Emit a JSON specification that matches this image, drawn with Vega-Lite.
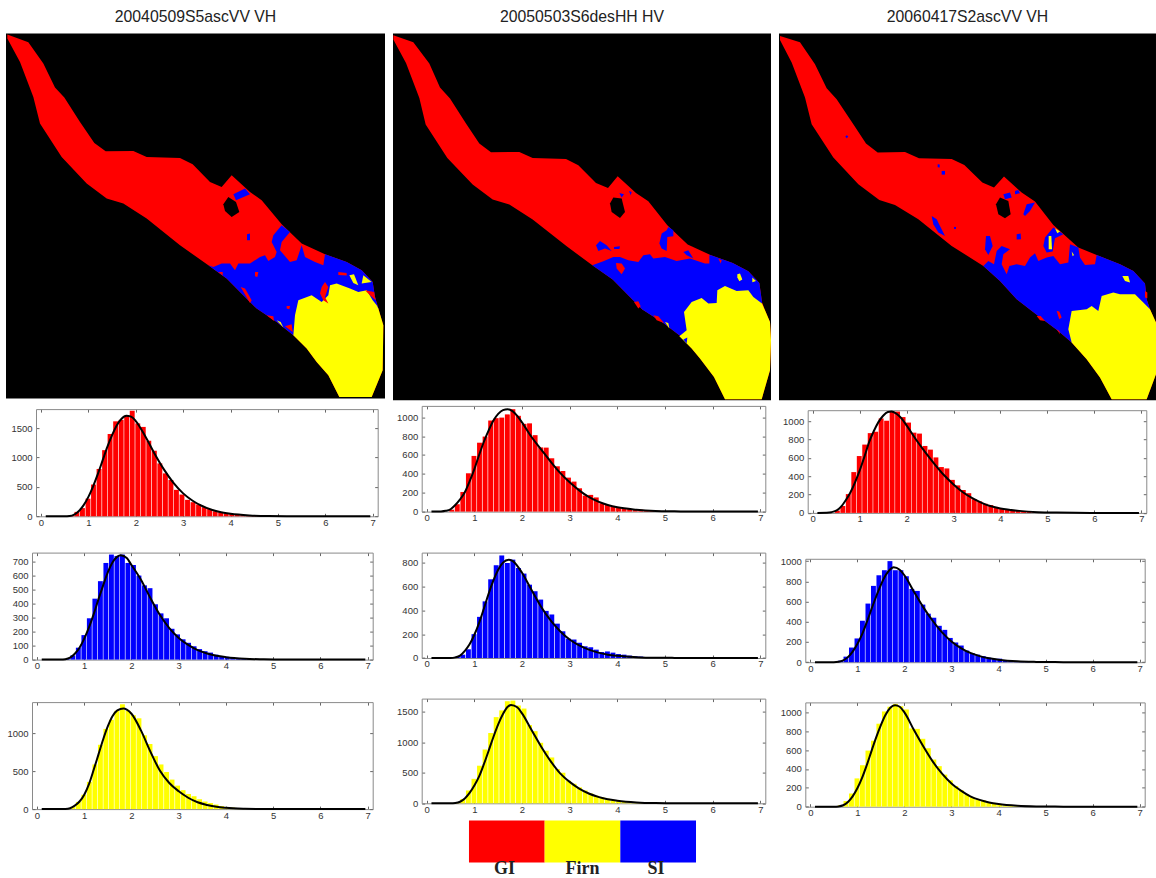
{
"$schema":"https://vega.github.io/schema/vega-lite/v6.json",
"background":"white",
"padding":{"left":6,"top":8.6,"right":0,"bottom":0},
"autosize":{"type":"pad"},
"config":{"view":{"stroke":null},"axis":{"domain":true,"domainColor":"#8a8a8a","domainWidth":1,"grid":false,"tickSize":-3,"tickColor":"#666666","labelFont":"Liberation Sans","labelFontSize":9.5,"labelColor":"#333333","title":null},"axisX":{"labelPadding":4},"axisY":{"labelPadding":7}},
"datasets":{
"b11":[{"x":0.642,"n":15},{"x":0.758,"n":75},{"x":0.875,"n":140},{"x":0.992,"n":300},{"x":1.108,"n":540},{"x":1.225,"n":805},{"x":1.342,"n":1125},{"x":1.458,"n":1400},{"x":1.575,"n":1615},{"x":1.692,"n":1640},{"x":1.808,"n":1710},{"x":1.925,"n":1795},{"x":2.042,"n":1580},{"x":2.158,"n":1520},{"x":2.275,"n":1285},{"x":2.392,"n":1115},{"x":2.508,"n":900},{"x":2.625,"n":730},{"x":2.742,"n":617},{"x":2.858,"n":450},{"x":2.975,"n":370},{"x":3.092,"n":280},{"x":3.208,"n":240},{"x":3.325,"n":200},{"x":3.442,"n":155},{"x":3.558,"n":125},{"x":3.675,"n":85},{"x":3.792,"n":70},{"x":3.908,"n":50},{"x":4.025,"n":40},{"x":4.142,"n":30},{"x":4.258,"n":20},{"x":4.375,"n":12},{"x":4.492,"n":8},{"x":4.608,"n":5}],
"c11":[{"x":0.1,"n":0},{"x":0.5,"n":0},{"x":0.6,"n":5},{"x":0.7,"n":30},{"x":0.8,"n":90},{"x":0.9,"n":190},{"x":1.0,"n":330},{"x":1.1,"n":510},{"x":1.2,"n":720},{"x":1.3,"n":950},{"x":1.4,"n":1180},{"x":1.5,"n":1380},{"x":1.6,"n":1550},{"x":1.7,"n":1660},{"x":1.8,"n":1710},{"x":1.9,"n":1695},{"x":2.0,"n":1620},{"x":2.2,"n":1360},{"x":2.4,"n":1060},{"x":2.6,"n":790},{"x":2.8,"n":565},{"x":3.0,"n":390},{"x":3.2,"n":265},{"x":3.4,"n":175},{"x":3.6,"n":112},{"x":3.8,"n":70},{"x":4.0,"n":43},{"x":4.4,"n":15},{"x":4.8,"n":4},{"x":5.2,"n":1},{"x":5.6,"n":0},{"x":6.95,"n":0}],
"b21":[{"x":0.642,"n":5},{"x":0.758,"n":30},{"x":0.875,"n":85},{"x":0.992,"n":175},{"x":1.108,"n":295},{"x":1.225,"n":435},{"x":1.342,"n":560},{"x":1.458,"n":690},{"x":1.575,"n":750},{"x":1.692,"n":740},{"x":1.808,"n":750},{"x":1.925,"n":690},{"x":2.042,"n":675},{"x":2.158,"n":600},{"x":2.275,"n":530},{"x":2.392,"n":510},{"x":2.508,"n":395},{"x":2.625,"n":330},{"x":2.742,"n":295},{"x":2.858,"n":220},{"x":2.975,"n":180},{"x":3.092,"n":145},{"x":3.208,"n":120},{"x":3.325,"n":95},{"x":3.442,"n":75},{"x":3.558,"n":60},{"x":3.675,"n":50},{"x":3.792,"n":35},{"x":3.908,"n":25},{"x":4.025,"n":20},{"x":4.142,"n":15},{"x":4.258,"n":12},{"x":4.375,"n":8},{"x":4.492,"n":5},{"x":4.608,"n":3}],
"c21":[{"x":0.1,"n":0},{"x":0.5,"n":0},{"x":0.6,"n":3},{"x":0.7,"n":14},{"x":0.8,"n":42},{"x":0.9,"n":85},{"x":1.0,"n":150},{"x":1.1,"n":230},{"x":1.2,"n":325},{"x":1.3,"n":430},{"x":1.4,"n":530},{"x":1.5,"n":625},{"x":1.6,"n":695},{"x":1.7,"n":735},{"x":1.77,"n":745},{"x":1.9,"n":725},{"x":2.0,"n":675},{"x":2.2,"n":570},{"x":2.4,"n":440},{"x":2.6,"n":320},{"x":2.8,"n":225},{"x":3.0,"n":155},{"x":3.2,"n":105},{"x":3.4,"n":68},{"x":3.6,"n":44},{"x":3.8,"n":27},{"x":4.0,"n":17},{"x":4.4,"n":6},{"x":4.8,"n":2},{"x":5.2,"n":0},{"x":6.95,"n":0}],
"b31":[{"x":0.642,"n":8},{"x":0.758,"n":30},{"x":0.875,"n":95},{"x":0.992,"n":190},{"x":1.108,"n":360},{"x":1.225,"n":590},{"x":1.342,"n":850},{"x":1.458,"n":1060},{"x":1.575,"n":1180},{"x":1.692,"n":1300},{"x":1.808,"n":1385},{"x":1.925,"n":1300},{"x":2.042,"n":1240},{"x":2.158,"n":1200},{"x":2.275,"n":975},{"x":2.392,"n":860},{"x":2.508,"n":700},{"x":2.625,"n":590},{"x":2.742,"n":490},{"x":2.858,"n":390},{"x":2.975,"n":310},{"x":3.092,"n":250},{"x":3.208,"n":200},{"x":3.325,"n":170},{"x":3.442,"n":130},{"x":3.558,"n":100},{"x":3.675,"n":80},{"x":3.792,"n":60},{"x":3.908,"n":40},{"x":4.025,"n":28},{"x":4.142,"n":20},{"x":4.258,"n":12},{"x":4.375,"n":8}],
"c31":[{"x":0.1,"n":0},{"x":0.5,"n":0},{"x":0.6,"n":2},{"x":0.7,"n":12},{"x":0.8,"n":45},{"x":0.9,"n":100},{"x":1.0,"n":190},{"x":1.1,"n":330},{"x":1.2,"n":520},{"x":1.3,"n":720},{"x":1.4,"n":920},{"x":1.5,"n":1095},{"x":1.6,"n":1230},{"x":1.7,"n":1305},{"x":1.83,"n":1330},{"x":1.9,"n":1315},{"x":2.0,"n":1260},{"x":2.2,"n":1040},{"x":2.4,"n":760},{"x":2.6,"n":510},{"x":2.8,"n":345},{"x":3.0,"n":235},{"x":3.2,"n":150},{"x":3.4,"n":90},{"x":3.6,"n":55},{"x":3.8,"n":30},{"x":4.0,"n":17},{"x":4.4,"n":5},{"x":4.8,"n":1},{"x":5.2,"n":0},{"x":6.95,"n":0}],
"b12":[{"x":0.525,"n":20},{"x":0.642,"n":78},{"x":0.758,"n":208},{"x":0.875,"n":406},{"x":0.992,"n":590},{"x":1.108,"n":730},{"x":1.225,"n":795},{"x":1.342,"n":965},{"x":1.458,"n":990},{"x":1.575,"n":996},{"x":1.692,"n":1030},{"x":1.808,"n":1085},{"x":1.925,"n":1015},{"x":2.042,"n":930},{"x":2.158,"n":935},{"x":2.275,"n":810},{"x":2.392,"n":680},{"x":2.508,"n":678},{"x":2.625,"n":565},{"x":2.742,"n":480},{"x":2.858,"n":430},{"x":2.975,"n":360},{"x":3.092,"n":318},{"x":3.208,"n":247},{"x":3.325,"n":170},{"x":3.442,"n":177},{"x":3.558,"n":150},{"x":3.675,"n":88},{"x":3.792,"n":70},{"x":3.908,"n":60},{"x":4.025,"n":45},{"x":4.142,"n":38},{"x":4.258,"n":30},{"x":4.375,"n":25},{"x":4.492,"n":20},{"x":4.608,"n":15},{"x":4.725,"n":12},{"x":4.842,"n":8},{"x":4.958,"n":5}],
"c12":[{"x":0.1,"n":0},{"x":0.3,"n":2},{"x":0.4,"n":8},{"x":0.5,"n":25},{"x":0.6,"n":70},{"x":0.7,"n":130},{"x":0.8,"n":205},{"x":0.9,"n":320},{"x":1.0,"n":450},{"x":1.1,"n":600},{"x":1.2,"n":740},{"x":1.3,"n":860},{"x":1.4,"n":965},{"x":1.5,"n":1035},{"x":1.6,"n":1075},{"x":1.7,"n":1085},{"x":1.8,"n":1065},{"x":1.9,"n":1015},{"x":2.0,"n":945},{"x":2.2,"n":790},{"x":2.4,"n":660},{"x":2.6,"n":530},{"x":2.8,"n":410},{"x":3.0,"n":310},{"x":3.2,"n":225},{"x":3.4,"n":155},{"x":3.6,"n":105},{"x":3.8,"n":70},{"x":4.0,"n":45},{"x":4.4,"n":20},{"x":4.8,"n":7},{"x":5.2,"n":3},{"x":5.6,"n":1},{"x":6.2,"n":0},{"x":6.95,"n":0}],
"b22":[{"x":0.642,"n":10},{"x":0.758,"n":28},{"x":0.875,"n":73},{"x":0.992,"n":200},{"x":1.108,"n":345},{"x":1.225,"n":475},{"x":1.342,"n":660},{"x":1.458,"n":778},{"x":1.575,"n":860},{"x":1.692,"n":797},{"x":1.808,"n":825},{"x":1.925,"n":755},{"x":2.042,"n":708},{"x":2.158,"n":615},{"x":2.275,"n":560},{"x":2.392,"n":490},{"x":2.508,"n":395},{"x":2.625,"n":365},{"x":2.742,"n":288},{"x":2.858,"n":224},{"x":2.975,"n":162},{"x":3.092,"n":155},{"x":3.208,"n":128},{"x":3.325,"n":98},{"x":3.442,"n":90},{"x":3.558,"n":70},{"x":3.675,"n":50},{"x":3.792,"n":55},{"x":3.908,"n":45},{"x":4.025,"n":33},{"x":4.142,"n":28},{"x":4.258,"n":20},{"x":4.375,"n":15},{"x":4.492,"n":12},{"x":4.608,"n":8},{"x":4.725,"n":5},{"x":4.842,"n":3}],
"c22":[{"x":0.1,"n":0},{"x":0.5,"n":0},{"x":0.6,"n":5},{"x":0.7,"n":20},{"x":0.8,"n":60},{"x":0.9,"n":115},{"x":1.0,"n":195},{"x":1.1,"n":295},{"x":1.2,"n":415},{"x":1.3,"n":540},{"x":1.4,"n":650},{"x":1.5,"n":740},{"x":1.6,"n":800},{"x":1.72,"n":825},{"x":1.8,"n":815},{"x":2.0,"n":715},{"x":2.2,"n":570},{"x":2.4,"n":430},{"x":2.6,"n":315},{"x":2.8,"n":225},{"x":3.0,"n":155},{"x":3.2,"n":105},{"x":3.4,"n":70},{"x":3.6,"n":45},{"x":3.8,"n":28},{"x":4.0,"n":18},{"x":4.4,"n":7},{"x":4.8,"n":2},{"x":5.2,"n":1},{"x":5.6,"n":0},{"x":6.95,"n":0}],
"b32":[{"x":0.642,"n":10},{"x":0.758,"n":70},{"x":0.875,"n":210},{"x":0.992,"n":400},{"x":1.108,"n":615},{"x":1.225,"n":880},{"x":1.342,"n":1150},{"x":1.458,"n":1410},{"x":1.575,"n":1520},{"x":1.692,"n":1670},{"x":1.808,"n":1680},{"x":1.925,"n":1600},{"x":2.042,"n":1550},{"x":2.158,"n":1280},{"x":2.275,"n":1180},{"x":2.392,"n":990},{"x":2.508,"n":860},{"x":2.625,"n":750},{"x":2.742,"n":560},{"x":2.858,"n":500},{"x":2.975,"n":370},{"x":3.092,"n":320},{"x":3.208,"n":260},{"x":3.325,"n":210},{"x":3.442,"n":160},{"x":3.558,"n":125},{"x":3.675,"n":100},{"x":3.792,"n":75},{"x":3.908,"n":50},{"x":4.025,"n":35},{"x":4.142,"n":25},{"x":4.258,"n":18},{"x":4.375,"n":10},{"x":4.492,"n":6}],
"c32":[{"x":0.1,"n":0},{"x":0.5,"n":0},{"x":0.6,"n":5},{"x":0.7,"n":25},{"x":0.8,"n":80},{"x":0.9,"n":170},{"x":1.0,"n":290},{"x":1.1,"n":440},{"x":1.2,"n":640},{"x":1.3,"n":860},{"x":1.4,"n":1085},{"x":1.5,"n":1290},{"x":1.6,"n":1460},{"x":1.7,"n":1580},{"x":1.77,"n":1610},{"x":1.9,"n":1570},{"x":2.0,"n":1470},{"x":2.2,"n":1200},{"x":2.4,"n":930},{"x":2.6,"n":690},{"x":2.8,"n":490},{"x":3.0,"n":350},{"x":3.2,"n":240},{"x":3.4,"n":160},{"x":3.6,"n":105},{"x":3.8,"n":65},{"x":4.0,"n":42},{"x":4.4,"n":15},{"x":4.8,"n":4},{"x":5.2,"n":1},{"x":5.6,"n":0},{"x":6.95,"n":0}],
"b13":[{"x":0.525,"n":25},{"x":0.642,"n":75},{"x":0.758,"n":205},{"x":0.875,"n":445},{"x":0.992,"n":620},{"x":1.108,"n":745},{"x":1.225,"n":870},{"x":1.342,"n":885},{"x":1.458,"n":1030},{"x":1.575,"n":1005},{"x":1.692,"n":1105},{"x":1.808,"n":1105},{"x":1.925,"n":1045},{"x":2.042,"n":985},{"x":2.158,"n":875},{"x":2.275,"n":865},{"x":2.392,"n":730},{"x":2.508,"n":690},{"x":2.625,"n":605},{"x":2.742,"n":500},{"x":2.858,"n":485},{"x":2.975,"n":360},{"x":3.092,"n":300},{"x":3.208,"n":250},{"x":3.325,"n":215},{"x":3.442,"n":150},{"x":3.558,"n":125},{"x":3.675,"n":100},{"x":3.792,"n":85},{"x":3.908,"n":65},{"x":4.025,"n":50},{"x":4.142,"n":40},{"x":4.258,"n":32},{"x":4.375,"n":25},{"x":4.492,"n":18},{"x":4.608,"n":12},{"x":4.725,"n":8},{"x":4.842,"n":5}],
"c13":[{"x":0.1,"n":0},{"x":0.3,"n":2},{"x":0.4,"n":8},{"x":0.5,"n":25},{"x":0.6,"n":65},{"x":0.7,"n":135},{"x":0.8,"n":220},{"x":0.9,"n":330},{"x":1.0,"n":460},{"x":1.1,"n":610},{"x":1.2,"n":770},{"x":1.3,"n":890},{"x":1.4,"n":990},{"x":1.5,"n":1060},{"x":1.6,"n":1100},{"x":1.68,"n":1105},{"x":1.8,"n":1075},{"x":1.9,"n":1025},{"x":2.0,"n":955},{"x":2.2,"n":800},{"x":2.4,"n":660},{"x":2.6,"n":530},{"x":2.8,"n":410},{"x":3.0,"n":310},{"x":3.2,"n":225},{"x":3.4,"n":160},{"x":3.6,"n":110},{"x":3.8,"n":72},{"x":4.0,"n":48},{"x":4.4,"n":22},{"x":4.8,"n":8},{"x":5.2,"n":3},{"x":5.6,"n":1},{"x":6.2,"n":0},{"x":6.95,"n":0}],
"b23":[{"x":0.642,"n":15},{"x":0.758,"n":55},{"x":0.875,"n":145},{"x":0.992,"n":235},{"x":1.108,"n":410},{"x":1.225,"n":580},{"x":1.342,"n":755},{"x":1.458,"n":860},{"x":1.575,"n":910},{"x":1.692,"n":1000},{"x":1.808,"n":910},{"x":1.925,"n":910},{"x":2.042,"n":850},{"x":2.158,"n":725},{"x":2.275,"n":705},{"x":2.392,"n":570},{"x":2.508,"n":480},{"x":2.625,"n":440},{"x":2.742,"n":360},{"x":2.858,"n":320},{"x":2.975,"n":240},{"x":3.092,"n":195},{"x":3.208,"n":165},{"x":3.325,"n":115},{"x":3.442,"n":90},{"x":3.558,"n":75},{"x":3.675,"n":60},{"x":3.792,"n":45},{"x":3.908,"n":35},{"x":4.025,"n":35},{"x":4.142,"n":20},{"x":4.258,"n":15},{"x":4.375,"n":10},{"x":4.492,"n":7},{"x":4.608,"n":4}],
"c23":[{"x":0.1,"n":0},{"x":0.5,"n":0},{"x":0.6,"n":4},{"x":0.7,"n":18},{"x":0.8,"n":50},{"x":0.9,"n":105},{"x":1.0,"n":180},{"x":1.1,"n":275},{"x":1.2,"n":395},{"x":1.3,"n":525},{"x":1.4,"n":650},{"x":1.5,"n":765},{"x":1.6,"n":860},{"x":1.7,"n":920},{"x":1.77,"n":940},{"x":1.9,"n":915},{"x":2.0,"n":860},{"x":2.2,"n":700},{"x":2.4,"n":545},{"x":2.6,"n":410},{"x":2.8,"n":295},{"x":3.0,"n":205},{"x":3.2,"n":140},{"x":3.4,"n":92},{"x":3.6,"n":60},{"x":3.8,"n":38},{"x":4.0,"n":25},{"x":4.4,"n":9},{"x":4.8,"n":3},{"x":5.2,"n":1},{"x":5.6,"n":0},{"x":6.95,"n":0}],
"b33":[{"x":0.642,"n":15},{"x":0.758,"n":60},{"x":0.875,"n":140},{"x":0.992,"n":300},{"x":1.108,"n":440},{"x":1.225,"n":595},{"x":1.342,"n":700},{"x":1.458,"n":880},{"x":1.575,"n":1010},{"x":1.692,"n":1060},{"x":1.808,"n":1090},{"x":1.925,"n":1065},{"x":2.042,"n":1030},{"x":2.158,"n":830},{"x":2.275,"n":825},{"x":2.392,"n":720},{"x":2.508,"n":620},{"x":2.625,"n":500},{"x":2.742,"n":430},{"x":2.858,"n":340},{"x":2.975,"n":280},{"x":3.092,"n":220},{"x":3.208,"n":175},{"x":3.325,"n":130},{"x":3.442,"n":100},{"x":3.558,"n":75},{"x":3.675,"n":70},{"x":3.792,"n":50},{"x":3.908,"n":30},{"x":4.025,"n":22},{"x":4.142,"n":15},{"x":4.258,"n":10},{"x":4.375,"n":6}],
"c33":[{"x":0.1,"n":0},{"x":0.5,"n":0},{"x":0.6,"n":3},{"x":0.7,"n":15},{"x":0.8,"n":50},{"x":0.9,"n":110},{"x":1.0,"n":195},{"x":1.1,"n":305},{"x":1.2,"n":440},{"x":1.3,"n":590},{"x":1.4,"n":735},{"x":1.5,"n":865},{"x":1.6,"n":975},{"x":1.7,"n":1050},{"x":1.8,"n":1075},{"x":1.9,"n":1060},{"x":2.0,"n":1000},{"x":2.2,"n":815},{"x":2.4,"n":640},{"x":2.6,"n":480},{"x":2.8,"n":350},{"x":3.0,"n":245},{"x":3.2,"n":170},{"x":3.4,"n":110},{"x":3.6,"n":72},{"x":3.8,"n":45},{"x":4.0,"n":28},{"x":4.4,"n":10},{"x":4.8,"n":3},{"x":5.2,"n":1},{"x":5.6,"n":0},{"x":6.95,"n":0}],
"map1":[
{"type":"Feature","properties":{"c":"frame"},"geometry":{"type":"Polygon","coordinates":[[[18,100],[1155,100],[1155,1195],[18,1195],[18,100]]]}},
{"type":"Feature","properties":{"c":"GI"},"geometry":{"type":"Polygon","coordinates":[[[22,103],[85,126],[130,190],[165,262],[193,292],[240,365],[283,428],[317,453],[400,452],[440,470],[540,473],[578,492],[630,545],[665,560],[695,525],[750,575],[785,600],[845,672],[905,730],[975,762],[1040,785],[1085,810],[1118,845],[1125,890],[1135,925],[1150,975],[1148,1110],[1115,1190],[1018,1190],[985,1125],[950,1085],[920,1045],[880,1005],[830,965],[770,925],[720,875],[680,835],[625,795],[540,735],[440,655],[370,610],[320,595],[260,550],[185,470],[120,370],[100,290],[60,185],[22,115],[22,103]]]}},
{"type":"Feature","properties":{"c":"SI"},"geometry":{"type":"Polygon","coordinates":[[[625,795],[640,800],[665,790],[690,790],[705,810],[715,790],[750,790],[780,770],[795,765],[805,782],[825,770],[830,755],[815,725],[820,705],[845,675],[870,695],[845,725],[840,750],[870,785],[890,780],[905,735],[915,770],[945,785],[970,795],[975,762],[1040,785],[1085,810],[1118,845],[1125,890],[1135,925],[1100,1000],[880,1005],[830,965],[770,925],[720,875],[680,835],[625,795]]]}},
{"type":"Feature","properties":{"c":"Firn"},"geometry":{"type":"Polygon","coordinates":[[[880,1005],[885,945],[895,900],[935,885],[965,905],[985,885],[990,855],[1010,850],[1050,865],[1075,875],[1100,870],[1118,900],[1130,915],[1135,925],[1150,975],[1148,1110],[1115,1190],[1018,1190],[985,1125],[950,1085],[920,1045],[880,1005]]]}},
{"type":"Feature","properties":{"c":"Firn"},"geometry":{"type":"Polygon","coordinates":[[[1048,825],[1062,822],[1075,855],[1060,848],[1048,825]]]}},
{"type":"Feature","properties":{"c":"Firn"},"geometry":{"type":"Polygon","coordinates":[[[1090,825],[1115,845],[1085,850],[1090,825]]]}},
{"type":"Feature","properties":{"c":"Firn"},"geometry":{"type":"Polygon","coordinates":[[[830,960],[842,965],[850,982],[830,960]]]}},
{"type":"Feature","properties":{"c":"GI"},"geometry":{"type":"Polygon","coordinates":[[[1015,815],[1040,818],[1040,826],[1015,824],[1015,815]]]}},
{"type":"Feature","properties":{"c":"GI"},"geometry":{"type":"Polygon","coordinates":[[[965,860],[975,845],[985,860],[975,890],[985,910],[970,900],[960,880],[965,860]]]}},
{"type":"Feature","properties":{"c":"GI"},"geometry":{"type":"Polygon","coordinates":[[[722,860],[735,865],[755,900],[750,908],[722,860]]]}},
{"type":"Feature","properties":{"c":"GI"},"geometry":{"type":"Polygon","coordinates":[[[765,815],[775,815],[772,830],[765,828],[765,815]]]}},
{"type":"Feature","properties":{"c":"GI"},"geometry":{"type":"Polygon","coordinates":[[[860,917],[870,917],[868,927],[860,925],[860,917]]]}},
{"type":"Feature","properties":{"c":"GI"},"geometry":{"type":"Polygon","coordinates":[[[800,945],[820,948],[822,962],[800,945]]]}},
{"type":"Feature","properties":{"c":"GI"},"geometry":{"type":"Polygon","coordinates":[[[855,978],[875,972],[878,995],[855,978]]]}},
{"type":"Feature","properties":{"c":"GI"},"geometry":{"type":"Polygon","coordinates":[[[1095,870],[1122,875],[1127,900],[1110,885],[1095,870]]]}},
{"type":"Feature","properties":{"c":"GI"},"geometry":{"type":"Polygon","coordinates":[[[655,815],[668,815],[668,826],[655,815]]]}},
{"type":"Feature","properties":{"c":"SI"},"geometry":{"type":"Polygon","coordinates":[[[700,582],[735,565],[750,582],[708,600],[700,582]]]}},
{"type":"Feature","properties":{"c":"SI"},"geometry":{"type":"Polygon","coordinates":[[[741,702],[750,700],[750,720],[741,720],[741,702]]]}},
{"type":"Feature","properties":{"c":"frame"},"geometry":{"type":"Polygon","coordinates":[[[670,612],[685,590],[708,605],[718,635],[695,650],[675,632],[670,612]]]}}
],
"map2":[
{"type":"Feature","properties":{"c":"frame"},"geometry":{"type":"Polygon","coordinates":[[[9,100],[1143,100],[1143,1200],[9,1200],[9,100]]]}},
{"type":"Feature","properties":{"c":"GI"},"geometry":{"type":"Polygon","coordinates":[[[10,105],[70,126],[118,190],[150,262],[180,295],[227,368],[268,430],[303,456],[388,455],[428,473],[528,476],[565,495],[618,548],[654,563],[683,528],[738,578],[775,603],[832,675],[893,733],[963,765],[1028,788],[1075,813],[1108,848],[1116,905],[1125,930],[1140,965],[1143,1020],[1140,1110],[1115,1197],[1005,1197],[972,1130],[930,1075],[905,1045],[868,1005],[820,968],[757,928],[708,878],[668,838],[607,795],[530,738],[428,658],[358,613],[308,598],[248,553],[172,473],[107,373],[88,293],[48,188],[10,118],[10,105]]]}},
{"type":"Feature","properties":{"c":"SI"},"geometry":{"type":"Polygon","coordinates":[[[607,795],[640,783],[670,770],[690,770],[715,780],[745,785],[760,765],[780,762],[790,775],[825,770],[860,782],[900,775],[945,790],[958,790],[958,765],[963,765],[1028,788],[1075,813],[1108,848],[1116,905],[1100,1000],[868,1005],[820,968],[757,928],[708,878],[668,838],[607,795]]]}},
{"type":"Feature","properties":{"c":"Firn"},"geometry":{"type":"Polygon","coordinates":[[[868,1008],[890,990],[882,935],[905,905],[935,893],[955,910],[980,908],[982,870],[1005,857],[1040,872],[1075,870],[1090,890],[1116,910],[1125,930],[1140,965],[1143,1020],[1140,1110],[1115,1197],[1005,1197],[972,1130],[930,1075],[905,1045],[868,1008]]]}},
{"type":"Feature","properties":{"c":"Firn"},"geometry":{"type":"Polygon","coordinates":[[[1042,822],[1050,820],[1057,838],[1048,843],[1042,832],[1042,822]]]}},
{"type":"Feature","properties":{"c":"Firn"},"geometry":{"type":"Polygon","coordinates":[[[1087,832],[1098,842],[1087,846],[1087,832]]]}},
{"type":"Feature","properties":{"c":"Firn"},"geometry":{"type":"Polygon","coordinates":[[[825,965],[835,968],[838,985],[825,965]]]}},
{"type":"Feature","properties":{"c":"GI"},"geometry":{"type":"Polygon","coordinates":[[[678,788],[695,790],[705,805],[695,822],[680,805],[678,788]]]}},
{"type":"Feature","properties":{"c":"GI"},"geometry":{"type":"Polygon","coordinates":[[[732,905],[745,903],[752,918],[745,925],[732,905]]]}},
{"type":"Feature","properties":{"c":"GI"},"geometry":{"type":"Polygon","coordinates":[[[790,945],[805,948],[822,968],[800,960],[790,945]]]}},
{"type":"Feature","properties":{"c":"GI"},"geometry":{"type":"Polygon","coordinates":[[[985,775],[995,780],[992,790],[985,775]]]}},
{"type":"Feature","properties":{"c":"SI"},"geometry":{"type":"Polygon","coordinates":[[[688,578],[702,582],[695,592],[688,578]]]}},
{"type":"Feature","properties":{"c":"SI"},"geometry":{"type":"Polygon","coordinates":[[[717,572],[725,575],[722,585],[717,572]]]}},
{"type":"Feature","properties":{"c":"SI"},"geometry":{"type":"Polygon","coordinates":[[[808,730],[815,700],[830,690],[835,680],[850,690],[850,708],[832,710],[830,752],[815,745],[808,730]]]}},
{"type":"Feature","properties":{"c":"SI"},"geometry":{"type":"Polygon","coordinates":[[[618,735],[630,722],[650,735],[665,752],[645,745],[625,752],[618,735]]]}},
{"type":"Feature","properties":{"c":"SI"},"geometry":{"type":"Polygon","coordinates":[[[672,740],[690,738],[688,746],[672,746],[672,740]]]}},
{"type":"Feature","properties":{"c":"SI"},"geometry":{"type":"Polygon","coordinates":[[[880,755],[895,750],[910,775],[890,765],[880,755]]]}},
{"type":"Feature","properties":{"c":"SI"},"geometry":{"type":"Polygon","coordinates":[[[880,1018],[892,1012],[890,1030],[880,1018]]]}},
{"type":"Feature","properties":{"c":"frame"},"geometry":{"type":"Polygon","coordinates":[[[660,610],[670,592],[695,595],[705,635],[690,653],[665,635],[660,610]]]}}
],
"map3":[
{"type":"Feature","properties":{"c":"frame"},"geometry":{"type":"Polygon","coordinates":[[[27,98],[1158,98],[1158,1198],[27,1198],[27,98]]]}},
{"type":"Feature","properties":{"c":"GI"},"geometry":{"type":"Polygon","coordinates":[[[30,105],[90,124],[135,190],[170,262],[200,295],[248,367],[288,428],[323,455],[405,453],[447,472],[545,474],[583,492],[637,545],[672,560],[702,527],[755,575],[795,602],[850,672],[925,740],[980,762],[1050,790],[1090,810],[1125,848],[1130,895],[1140,925],[1158,965],[1158,1120],[1130,1195],[1025,1195],[990,1130],[950,1075],[905,1025],[865,990],[805,945],[740,895],[690,840],[640,795],[545,735],[445,655],[375,612],[328,597],[265,550],[190,470],[125,370],[105,290],[65,185],[30,117],[30,105]]]}},
{"type":"Feature","properties":{"c":"SI"},"geometry":{"type":"Polygon","coordinates":[[[640,795],[655,780],[672,790],[680,750],[695,735],[720,745],[700,760],[695,790],[710,820],[718,795],[740,790],[765,795],[780,770],[795,757],[805,780],[830,770],[850,765],[870,790],[895,785],[900,730],[925,740],[930,770],[945,792],[975,790],[980,762],[1050,790],[1090,810],[1125,848],[1130,895],[1140,925],[1100,1030],[905,1025],[865,990],[805,945],[740,895],[690,840],[640,795]]]}},
{"type":"Feature","properties":{"c":"Firn"},"geometry":{"type":"Polygon","coordinates":[[[905,1025],[895,985],[905,930],[950,925],[965,915],[985,930],[995,885],[1030,875],[1050,880],[1095,880],[1120,905],[1140,925],[1158,965],[1158,1120],[1130,1195],[1025,1195],[990,1130],[950,1075],[905,1025]]]}},
{"type":"Feature","properties":{"c":"Firn"},"geometry":{"type":"Polygon","coordinates":[[[1057,825],[1075,825],[1080,845],[1065,840],[1057,825]]]}},
{"type":"Feature","properties":{"c":"GI"},"geometry":{"type":"Polygon","coordinates":[[[860,930],[868,932],[875,950],[868,955],[860,930]]]}},
{"type":"Feature","properties":{"c":"GI"},"geometry":{"type":"Polygon","coordinates":[[[800,945],[812,945],[825,960],[810,958],[800,945]]]}},
{"type":"Feature","properties":{"c":"GI"},"geometry":{"type":"Polygon","coordinates":[[[1125,870],[1132,875],[1132,892],[1125,890],[1125,870]]]}},
{"type":"Feature","properties":{"c":"GI"},"geometry":{"type":"Polygon","coordinates":[[[860,985],[868,990],[870,1000],[860,985]]]}},
{"type":"Feature","properties":{"c":"SI"},"geometry":{"type":"Polygon","coordinates":[[[230,403],[235,407],[230,412],[226,407],[230,403]]]}},
{"type":"Feature","properties":{"c":"SI"},"geometry":{"type":"Polygon","coordinates":[[[503,490],[509,491],[509,500],[503,499],[503,490]]]}},
{"type":"Feature","properties":{"c":"SI"},"geometry":{"type":"Polygon","coordinates":[[[515,510],[525,510],[525,521],[515,521],[515,510]]]}},
{"type":"Feature","properties":{"c":"SI"},"geometry":{"type":"Polygon","coordinates":[[[485,645],[500,655],[525,705],[505,695],[490,670],[485,645]]]}},
{"type":"Feature","properties":{"c":"SI"},"geometry":{"type":"Polygon","coordinates":[[[552,678],[558,678],[558,684],[552,684],[552,678]]]}},
{"type":"Feature","properties":{"c":"SI"},"geometry":{"type":"Polygon","coordinates":[[[700,580],[720,575],[725,590],[705,595],[700,580]]]}},
{"type":"Feature","properties":{"c":"SI"},"geometry":{"type":"Polygon","coordinates":[[[735,570],[745,567],[750,577],[735,580],[735,570]]]}},
{"type":"Feature","properties":{"c":"SI"},"geometry":{"type":"Polygon","coordinates":[[[760,640],[770,610],[795,605],[780,630],[765,645],[760,640]]]}},
{"type":"Feature","properties":{"c":"SI"},"geometry":{"type":"Polygon","coordinates":[[[740,700],[752,698],[753,715],[740,716],[740,700]]]}},
{"type":"Feature","properties":{"c":"SI"},"geometry":{"type":"Polygon","coordinates":[[[648,705],[660,705],[668,735],[655,762],[645,745],[648,705]]]}},
{"type":"Feature","properties":{"c":"SI"},"geometry":{"type":"Polygon","coordinates":[[[820,735],[825,710],[850,680],[880,700],[855,712],[848,752],[830,755],[820,735]]]}},
{"type":"Feature","properties":{"c":"Firn"},"geometry":{"type":"Polygon","coordinates":[[[836,705],[844,705],[846,745],[836,745],[836,705]]]}},
{"type":"Feature","properties":{"c":"Firn"},"geometry":{"type":"Polygon","coordinates":[[[855,682],[870,692],[862,697],[855,682]]]}},
{"type":"Feature","properties":{"c":"Firn"},"geometry":{"type":"Polygon","coordinates":[[[905,752],[912,762],[908,766],[905,752]]]}},
{"type":"Feature","properties":{"c":"frame"},"geometry":{"type":"Polygon","coordinates":[[[678,610],[690,590],[715,600],[722,640],[705,652],[685,640],[678,610]]]}}
],
"swatch":[{"c":"GI","a":0,"b":1,"m":0.47},{"c":"Firn","a":1,"b":2,"m":1.5},{"c":"SI","a":2,"b":3,"m":2.47}]
},
"spacing":8,
"hconcat":[
{"spacing":9.5,"vconcat":[
{"width":379,"height":365,"title":{"text":"20040509S5ascVV VH","font":"Liberation Sans","fontSize":15.8,"fontWeight":"normal","color":"#222222","offset":8,"anchor":"middle"},"data":{"name":"map1"},"projection":{"type":"identity","reflectY":false},"mark":{"type":"geoshape","strokeWidth":0},"encoding":{"color":{"field":"properties.c","type":"nominal","scale":{"domain":["frame","GI","SI","Firn"],"range":["#000000","#ff0000","#0000ff","#ffff00"]},"legend":null}}},
{"width":371.7,"height":132,"resolve":{"axis":{"x":"independent","y":"independent"}},"layer":[
{"data":{"name":"b11"},"mark":{"type":"bar","orient":"vertical","size":4.9,"color":"#ff0000"},"encoding":{"x":{"field":"x","type":"quantitative","scale":{"domain":[0,7],"nice":false,"range":[30,371.7]},"axis":{"values":[0,1,2,3,4,5,6,7],"format":"d","offset":-24.8}},"y":{"field":"n","type":"quantitative","stack":null,"scale":{"domain":[0,1823],"nice":false,"range":[107.2,0]},"axis":{"values":[0,500,1000,1500],"format":"d","offset":-30}}}},
{"data":{"name":"c11"},"mark":{"type":"line","color":"#000000","strokeWidth":2,"interpolate":"monotone"},"encoding":{"x":{"field":"x","type":"quantitative","scale":{"domain":[0,7],"nice":false,"range":[30,371.7]},"axis":{"orient":"top","values":[0,1,2,3,4,5,6,7],"labels":false}},"y":{"field":"n","type":"quantitative","scale":{"domain":[0,1823],"nice":false,"range":[107.2,0]},"axis":{"orient":"right","values":[0,500,1000,1500],"labels":false}}}}
]},
{"width":366.7,"height":138.5,"resolve":{"axis":{"x":"independent","y":"independent"}},"layer":[
{"data":{"name":"b21"},"mark":{"type":"bar","orient":"vertical","size":4.9,"color":"#0000ff"},"encoding":{"x":{"field":"x","type":"quantitative","scale":{"domain":[0,7],"nice":false,"range":[26,366.7]},"axis":{"values":[0,1,2,3,4,5,6,7],"format":"d","offset":-31.5}},"y":{"field":"n","type":"quantitative","stack":null,"scale":{"domain":[0,764],"nice":false,"range":[107,0]},"axis":{"values":[0,100,200,300,400,500,600,700],"format":"d","offset":-26}}}},
{"data":{"name":"c21"},"mark":{"type":"line","color":"#000000","strokeWidth":2,"interpolate":"monotone"},"encoding":{"x":{"field":"x","type":"quantitative","scale":{"domain":[0,7],"nice":false,"range":[26,366.7]},"axis":{"orient":"top","values":[0,1,2,3,4,5,6,7],"labels":false}},"y":{"field":"n","type":"quantitative","scale":{"domain":[0,764],"nice":false,"range":[107,0]},"axis":{"orient":"right","values":[0,100,200,300,400,500,600,700],"labels":false}}}}
]},
{"width":366.7,"height":122,"resolve":{"axis":{"x":"independent","y":"independent"}},"layer":[
{"data":{"name":"b31"},"mark":{"type":"bar","orient":"vertical","size":4.9,"color":"#ffff00"},"encoding":{"x":{"field":"x","type":"quantitative","scale":{"domain":[0,7],"nice":false,"range":[26,366.7]},"axis":{"values":[0,1,2,3,4,5,6,7],"format":"d","offset":-15}},"y":{"field":"n","type":"quantitative","stack":null,"scale":{"domain":[0,1414],"nice":false,"range":[107,0]},"axis":{"values":[0,500,1000],"format":"d","offset":-26}}}},
{"data":{"name":"c31"},"mark":{"type":"line","color":"#000000","strokeWidth":2,"interpolate":"monotone"},"encoding":{"x":{"field":"x","type":"quantitative","scale":{"domain":[0,7],"nice":false,"range":[26,366.7]},"axis":{"orient":"top","values":[0,1,2,3,4,5,6,7],"labels":false}},"y":{"field":"n","type":"quantitative","scale":{"domain":[0,1414],"nice":false,"range":[107,0]},"axis":{"orient":"right","values":[0,500,1000],"labels":false}}}}
]}
]},
{"spacing":0,"vconcat":[
{"width":378,"height":366.7,"title":{"text":"20050503S6desHH HV","font":"Liberation Sans","fontSize":15.8,"fontWeight":"normal","color":"#222222","offset":8,"anchor":"middle"},"data":{"name":"map2"},"projection":{"type":"identity","reflectY":false},"mark":{"type":"geoshape","strokeWidth":0},"encoding":{"color":{"field":"properties.c","type":"nominal","scale":{"domain":["frame","GI","SI","Firn"],"range":["#000000","#ff0000","#0000ff","#ffff00"]},"legend":null}}},
{"width":372.3,"height":150.6,"resolve":{"axis":{"x":"independent","y":"independent"}},"layer":[
{"data":{"name":"b12"},"mark":{"type":"bar","orient":"vertical","size":4.9,"color":"#ff0000"},"encoding":{"x":{"field":"x","type":"quantitative","scale":{"domain":[0,7],"nice":false,"range":[28.7,372.3]},"axis":{"values":[0,1,2,3,4,5,6,7],"format":"d","offset":-39.6}},"y":{"field":"n","type":"quantitative","stack":null,"scale":{"domain":[0,1120],"nice":false,"range":[111,5.3]},"axis":{"values":[0,200,400,600,800,1000],"format":"d","offset":-28.7}}}},
{"data":{"name":"c12"},"mark":{"type":"line","color":"#000000","strokeWidth":2,"interpolate":"monotone"},"encoding":{"x":{"field":"x","type":"quantitative","scale":{"domain":[0,7],"nice":false,"range":[28.7,372.3]},"axis":{"orient":"top","offset":-5.3,"values":[0,1,2,3,4,5,6,7],"labels":false}},"y":{"field":"n","type":"quantitative","scale":{"domain":[0,1120],"nice":false,"range":[111,5.3]},"axis":{"orient":"right","values":[0,200,400,600,800,1000],"labels":false}}}}
]},
{"width":372.3,"height":145,"resolve":{"axis":{"x":"independent","y":"independent"}},"layer":[
{"data":{"name":"b22"},"mark":{"type":"bar","orient":"vertical","size":4.9,"color":"#0000ff"},"encoding":{"x":{"field":"x","type":"quantitative","scale":{"domain":[0,7],"nice":false,"range":[28.7,372.3]},"axis":{"values":[0,1,2,3,4,5,6,7],"format":"d","offset":-39.6}},"y":{"field":"n","type":"quantitative","stack":null,"scale":{"domain":[0,884],"nice":false,"range":[105.4,0]},"axis":{"values":[0,200,400,600,800],"format":"d","offset":-28.7}}}},
{"data":{"name":"c22"},"mark":{"type":"line","color":"#000000","strokeWidth":2,"interpolate":"monotone"},"encoding":{"x":{"field":"x","type":"quantitative","scale":{"domain":[0,7],"nice":false,"range":[28.7,372.3]},"axis":{"orient":"top","values":[0,1,2,3,4,5,6,7],"labels":false}},"y":{"field":"n","type":"quantitative","scale":{"domain":[0,884],"nice":false,"range":[105.4,0]},"axis":{"orient":"right","values":[0,200,400,600,800],"labels":false}}}}
]},
{"width":372.3,"height":121.4,"resolve":{"axis":{"x":"independent","y":"independent"}},"layer":[
{"data":{"name":"b32"},"mark":{"type":"bar","orient":"vertical","size":4.9,"color":"#ffff00"},"encoding":{"x":{"field":"x","type":"quantitative","scale":{"domain":[0,7],"nice":false,"range":[28.7,372.3]},"axis":{"values":[0,1,2,3,4,5,6,7],"format":"d","offset":-16.7}},"y":{"field":"n","type":"quantitative","stack":null,"scale":{"domain":[0,1713],"nice":false,"range":[104.7,0]},"axis":{"values":[0,500,1000,1500],"format":"d","offset":-28.7}}}},
{"data":{"name":"c32"},"mark":{"type":"line","color":"#000000","strokeWidth":2,"interpolate":"monotone"},"encoding":{"x":{"field":"x","type":"quantitative","scale":{"domain":[0,7],"nice":false,"range":[28.7,372.3]},"axis":{"orient":"top","values":[0,1,2,3,4,5,6,7],"labels":false}},"y":{"field":"n","type":"quantitative","scale":{"domain":[0,1713],"nice":false,"range":[104.7,0]},"axis":{"orient":"right","values":[0,500,1000,1500],"labels":false}}}}
]},
{"width":378,"height":55,"data":{"name":"swatch"},"layer":[
{"mark":{"type":"rect"},"encoding":{"x":{"field":"a","type":"quantitative","scale":{"domain":[-1.004,3.991],"nice":false,"zero":false},"axis":null},"x2":{"field":"b"},"y":{"datum":0,"type":"quantitative","scale":{"domain":[-0.31,1],"nice":false},"axis":null},"y2":{"datum":1},"color":{"field":"c","type":"nominal","scale":{"domain":["GI","Firn","SI"],"range":["#ff0000","#ffff00","#0000ff"]},"legend":null}}},
{"mark":{"type":"text","font":"Liberation Serif","fontSize":18,"fontWeight":"bold","color":"#222222"},"encoding":{"x":{"field":"m","type":"quantitative"},"y":{"datum":-0.15,"type":"quantitative"},"text":{"field":"c"}}}
]}
]},
{"spacing":6.6,"vconcat":[
{"width":377,"height":366.7,"title":{"text":"20060417S2ascVV VH","font":"Liberation Sans","fontSize":15.8,"fontWeight":"normal","color":"#222222","offset":8,"anchor":"middle"},"data":{"name":"map3"},"projection":{"type":"identity","reflectY":false},"mark":{"type":"geoshape","strokeWidth":0},"encoding":{"color":{"field":"properties.c","type":"nominal","scale":{"domain":["frame","GI","SI","Firn"],"range":["#000000","#ff0000","#0000ff","#ffff00"]},"legend":null}}},
{"width":367.3,"height":139,"resolve":{"axis":{"x":"independent","y":"independent"}},"layer":[
{"data":{"name":"b13"},"mark":{"type":"bar","orient":"vertical","size":4.9,"color":"#ff0000"},"encoding":{"x":{"field":"x","type":"quantitative","scale":{"domain":[0,7],"nice":false,"range":[28.7,367.3]},"axis":{"values":[0,1,2,3,4,5,6,7],"format":"d","offset":-36.3}},"y":{"field":"n","type":"quantitative","stack":null,"scale":{"domain":[0,1120],"nice":false,"range":[102.7,0]},"axis":{"values":[0,200,400,600,800,1000],"format":"d","offset":-28.7}}}},
{"data":{"name":"c13"},"mark":{"type":"line","color":"#000000","strokeWidth":2,"interpolate":"monotone"},"encoding":{"x":{"field":"x","type":"quantitative","scale":{"domain":[0,7],"nice":false,"range":[28.7,367.3]},"axis":{"orient":"top","values":[0,1,2,3,4,5,6,7],"labels":false}},"y":{"field":"n","type":"quantitative","scale":{"domain":[0,1120],"nice":false,"range":[102.7,0]},"axis":{"orient":"right","values":[0,200,400,600,800,1000],"labels":false}}}}
]},
{"width":365.7,"height":134.4,"resolve":{"axis":{"x":"independent","y":"independent"}},"layer":[
{"data":{"name":"b23"},"mark":{"type":"bar","orient":"vertical","size":4.9,"color":"#0000ff"},"encoding":{"x":{"field":"x","type":"quantitative","scale":{"domain":[0,7],"nice":false,"range":[26.3,365.7]},"axis":{"values":[0,1,2,3,4,5,6,7],"format":"d","offset":-31}},"y":{"field":"n","type":"quantitative","stack":null,"scale":{"domain":[0,1023],"nice":false,"range":[103.4,0]},"axis":{"values":[0,200,400,600,800,1000],"format":"d","offset":-26.3}}}},
{"data":{"name":"c23"},"mark":{"type":"line","color":"#000000","strokeWidth":2,"interpolate":"monotone"},"encoding":{"x":{"field":"x","type":"quantitative","scale":{"domain":[0,7],"nice":false,"range":[26.3,365.7]},"axis":{"orient":"top","values":[0,1,2,3,4,5,6,7],"labels":false}},"y":{"field":"n","type":"quantitative","scale":{"domain":[0,1023],"nice":false,"range":[103.4,0]},"axis":{"orient":"right","values":[0,200,400,600,800,1000],"labels":false}}}}
]},
{"width":365.7,"height":119.3,"resolve":{"axis":{"x":"independent","y":"independent"}},"layer":[
{"data":{"name":"b33"},"mark":{"type":"bar","orient":"vertical","size":4.9,"color":"#ffff00"},"encoding":{"x":{"field":"x","type":"quantitative","scale":{"domain":[0,7],"nice":false,"range":[26.3,365.7]},"axis":{"values":[0,1,2,3,4,5,6,7],"format":"d","offset":-15}},"y":{"field":"n","type":"quantitative","stack":null,"scale":{"domain":[0,1106],"nice":false,"range":[104.3,0]},"axis":{"values":[0,200,400,600,800,1000],"format":"d","offset":-26.3}}}},
{"data":{"name":"c33"},"mark":{"type":"line","color":"#000000","strokeWidth":2,"interpolate":"monotone"},"encoding":{"x":{"field":"x","type":"quantitative","scale":{"domain":[0,7],"nice":false,"range":[26.3,365.7]},"axis":{"orient":"top","values":[0,1,2,3,4,5,6,7],"labels":false}},"y":{"field":"n","type":"quantitative","scale":{"domain":[0,1106],"nice":false,"range":[104.3,0]},"axis":{"orient":"right","values":[0,200,400,600,800,1000],"labels":false}}}}
]}
]}
]}
